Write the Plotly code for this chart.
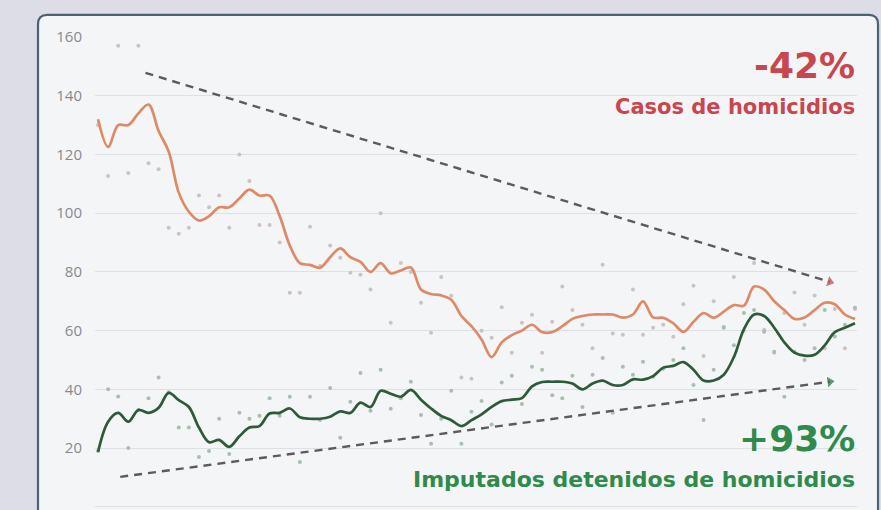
import plotly.graph_objects as go

# ---- data (monthly points, index 0..75) ----
months = list(range(76))

homicidios_tendencia = [
    132, 122.6, 130, 130, 134, 137, 128, 121, 107, 100.5,
    97.5, 99, 102, 102, 105, 108, 106, 106, 99, 89,
    83, 82.4, 81.4, 85, 88, 85, 83.4, 80, 83, 79.5,
    80.5, 81.5, 74, 72.5, 72, 70.5, 65, 61.5, 57, 51,
    56, 58.5, 60, 62, 59.5, 59.5, 61.5, 64, 65, 65.5,
    65.5, 65.5, 64.4, 65.5, 70, 64.5, 64.4, 62.5, 59.6, 63,
    66, 64.4, 66.5, 68.7, 68.5, 75, 74, 70, 67, 64,
    64.5, 67, 69.5, 69, 65.5, 64,
]

homicidios_mensual = [
    130, 112.7, 157, 113.7, 157, 117, 115, 95, 93, 95,
    106, 102, 106, 95, 120, 111, 96, 96, 90, 72.9,
    72.9, 95.4, 82, 89, 84.8, 79.7, 79, 74, 100, 62.7,
    83, 80, 69.5, 59.3, 78.3, 71.9, 44, 43.6, 60, 57.6,
    68, 52.5, 62.7, 65.4, 52.5, 63, 75, 67, 62, 54,
    82.4, 59, 58.6, 74, 58.6, 61, 62, 57.9, 69, 75.3,
    51.4, 70, 61.3, 78.3, 60, 83, 60.3, 52.5, 66, 73,
    62, 72, 54, 67.4, 54, 67.4,
]

detenidos_tendencia = [
    18.7, 29, 32, 29, 33, 32, 33.7, 38.8, 36.3, 34,
    27, 22, 22.8, 20.4, 24, 27, 27.5, 31.8, 32, 33.5,
    30.5, 30, 30, 30.7, 32.5, 32, 35.5, 34, 39.5, 38.5,
    37.5, 39.8, 36.5, 33.5, 31, 29.5, 27.5, 29.5, 31.5, 34,
    36, 36.5, 37, 41, 42.5, 42.6, 42.6, 42, 40, 42,
    43, 41.5, 41.5, 43.4, 43.3, 44.5, 47.4, 48, 49.3, 46.7,
    43, 43, 45, 51, 60.5, 65.5, 65, 61, 56, 52.5,
    51.5, 51.8, 55, 59.5, 61, 62.5,
]

detenidos_mensual = [
    19, 40, 37.6, 20, 33, 37, 44, 39, 27, 27,
    17, 19, 30, 18, 32, 30, 31, 37, 31, 37.5,
    15.3, 37.5, 29.6, 40.5, 23.5, 35.8, 45.6, 32.7, 46.7, 33.4,
    37, 42.6, 31.3, 21.5, 30, 39.5, 21.5, 32.4, 36, 28,
    42.3, 44.6, 35, 47.7, 46.7, 38, 37, 44.6, 34, 45,
    50.7, 32, 47.7, 45, 49.4, 44.3, 47, 50, 54, 41.5,
    29.6, 46.7, 61, 55, 66, 67, 59.6, 52.8, 37.5, 52.8,
    50, 54, 67, 58, 62, 67.8,
]

# trend arrows (start/end in data units)
flecha_homicidios_x = [4.7, 72.5]
flecha_homicidios_y = [147.8, 76.6]
flecha_detenidos_x = [2.2, 72.5]
flecha_detenidos_y = [10.2, 42.6]

y_ticks = [0, 20, 40, 60, 80, 100, 120, 140, 160]

RED = "#c8464f"
GREEN = "#2f8a4b"
TITLE_FONT = "DejaVu Sans"
FONT = "Open Sans"

fig = go.Figure()

# monthly dots
fig.add_trace(go.Scatter(
    x=months, y=homicidios_mensual, mode="markers",
    marker=dict(size=4, color="#cdc2c2"), hoverinfo="skip", showlegend=False))
fig.add_trace(go.Scatter(
    x=months, y=detenidos_mensual, mode="markers",
    marker=dict(size=4, color="#a6c0ab"), hoverinfo="skip", showlegend=False))

# trend lines
fig.add_trace(go.Scatter(
    x=months, y=homicidios_tendencia, mode="lines", line_shape="spline",
    line=dict(color="#de8a66", width=2.7), hoverinfo="skip", showlegend=False))
fig.add_trace(go.Scatter(
    x=months, y=detenidos_tendencia, mode="lines", line_shape="spline",
    line=dict(color="#2d5a39", width=2.7), hoverinfo="skip", showlegend=False))

# dashed arrows
for xs, ys, head in [(flecha_homicidios_x, flecha_homicidios_y, "#b84a4a"),
                     (flecha_detenidos_x, flecha_detenidos_y, "#2e6b3e")]:
    fig.add_trace(go.Scatter(
        x=xs, y=ys, mode="lines",
        line=dict(color="#5c5a5a", width=2.4, dash="8px,6px"),
        hoverinfo="skip", showlegend=False))
    fig.add_trace(go.Scatter(
        x=[xs[0], xs[1]], y=[ys[0], ys[1]], mode="markers",
        marker=dict(size=[0, 11], symbol="triangle-up", color=head,
                    angleref="previous"),
        hoverinfo="skip", showlegend=False))

# panel background (rounded top-left corner)
x0, x1, y0, y1 = -0.0748, 1.0276, -0.05, 1.0468
r_x, r_y = 0.012, 0.02
panel_path = (f"M {x0},{y0} L {x0},{y1 - r_y} Q {x0},{y1} {x0 + r_x},{y1} "
              f"L {x1 - r_x},{y1} Q {x1},{y1} {x1},{y1 - r_y} L {x1},{y0} Z")
fig.add_shape(type="path", path=panel_path, xref="paper", yref="paper",
              fillcolor="#f3f5f7", line=dict(color="#4c6274", width=2.2),
              layer="below")

# texts
fig.add_annotation(x=1.0, y=0.94, xref="paper", yref="paper", xanchor="right",
                   yanchor="middle", showarrow=False, text="<b>-42%</b>",
                   font=dict(family=TITLE_FONT, size=36, color=RED))
fig.add_annotation(x=1.0, y=0.852, xref="paper", yref="paper", xanchor="right",
                   yanchor="middle", showarrow=False, text="<b>Casos de homicidios</b>",
                   font=dict(family=TITLE_FONT, size=21, color=RED))
fig.add_annotation(x=1.0, y=0.148, xref="paper", yref="paper", xanchor="right",
                   yanchor="middle", showarrow=False, text="<b>+93%</b>",
                   font=dict(family=TITLE_FONT, size=36, color=GREEN))
fig.add_annotation(x=1.0, y=0.06, xref="paper", yref="paper", xanchor="right",
                   yanchor="middle", showarrow=False,
                   text="<b>Imputados detenidos de homicidios</b>",
                   font=dict(family=TITLE_FONT, size=22, color=GREEN))

fig.update_layout(
    width=881, height=510,
    margin=dict(l=95, r=24, t=37, b=2),
    paper_bgcolor="#dcdde7",
    plot_bgcolor="rgba(0,0,0,0)",
    font=dict(family=FONT),
    showlegend=False,
    xaxis=dict(range=[-0.3, 75.2], showgrid=False, zeroline=False,
               showticklabels=False, showline=False, fixedrange=True),
    yaxis=dict(range=[-0.4, 160], tickvals=y_ticks, showgrid=True,
               gridcolor="#dde1e6", gridwidth=1, zeroline=False, showline=False,
               ticks="", ticklabelstandoff=12,
               tickfont=dict(family=FONT, size=15, color="#858a91"),
               fixedrange=True),
)

fig.write_html("out.html",
               config={"displayModeBar": False},
               post_script="document.body.style.margin='0px';"
                           "document.body.style.overflow='hidden';")
